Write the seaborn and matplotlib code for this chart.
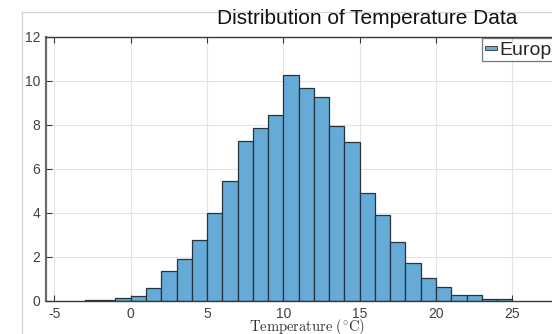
import numpy as np
import pandas as pd
import matplotlib
matplotlib.use("Agg")
import matplotlib.pyplot as plt
import seaborn as sns
from matplotlib.lines import Line2D
from matplotlib.patches import Rectangle, Patch
from matplotlib.legend_handler import HandlerPatch

# ---- data ----
bin_left = [-3, -2, -1, 0, 1, 2, 3, 4, 5, 6, 7, 8, 9, 10, 11, 12, 13, 14,
            15, 16, 17, 18, 19, 20, 21, 22, 23, 24]
heights = [0.06, 0.06, 0.14, 0.25, 0.58, 1.36, 1.90, 2.77, 4.00, 5.45, 7.27,
           7.88, 8.45, 10.27, 9.67, 9.26, 7.97, 7.23, 4.89, 3.91, 2.70, 1.74,
           1.06, 0.62, 0.27, 0.27, 0.09, 0.09]
series_name = "Europe"
title = "Distribution of Temperature Data"
xticks = [-5, 0, 5, 10, 15, 20, 25]
yticks = [0, 2, 4, 6, 8, 10, 12]

df = pd.DataFrame({"center": np.array(bin_left, dtype=float) + 0.5, "h": heights})

sns.set_style("white")
plt.rcParams["font.family"] = ["Liberation Sans", "DejaVu Sans"]
plt.rcParams["mathtext.fontset"] = "cm"

FACE = "#66AAD7"
EDGE = "#27343d"

W, H = 552, 334
fig = plt.figure(figsize=(W / 100, H / 100), dpi=100)
fig.patch.set_facecolor("white")

# light gray frame of the original figure window
fig.add_artist(Line2D([22 / W, 22 / W], [0, 1 - 12 / H], color="#d4d4d4", lw=0.9))
fig.add_artist(Line2D([22 / W, 1], [1 - 12 / H, 1 - 12 / H], color="#d4d4d4", lw=0.9))

ax = fig.add_axes([46 / W, 33 / H, (568 - 46) / W, (301 - 37) / H])
sns.histplot(data=df, x="center", weights="h", binwidth=1,
             binrange=(bin_left[0], bin_left[-1] + 1), ax=ax,
             color=FACE, alpha=1.0, edgecolor=EDGE, linewidth=0.9)

ax.set_xlim(-5.55, 28.65)
ax.set_ylim(0, 12)
ax.set_xticks(xticks)
ax.set_yticks(yticks)
ax.set_xticklabels([str(t) for t in xticks])
ax.set_yticklabels([str(t) for t in yticks])
ax.set_xlabel("")
ax.set_ylabel("")
ax.grid(True, color="#e3e3e3", lw=0.8)
ax.set_axisbelow(True)
for s in ax.spines.values():
    s.set_color("#3a3a3a")
    s.set_linewidth(1.0)
ax.spines["left"].set_color("#6a6a6a")
ax.spines["left"].set_linewidth(1.6)
ax.tick_params(direction="in", length=4, width=0.8, colors="#3a3a3a",
               labelcolor="#404040", labelsize=10, top=True, bottom=True,
               left=True, right=False, pad=4)


def thin_patch(legend, orig_handle, xdescent, ydescent, width, height, fontsize):
    h = 3.0
    return Rectangle((-xdescent, -ydescent + height / 2 - h / 2), width, h)


handle = Patch(facecolor=FACE, edgecolor=EDGE, linewidth=0.6)
leg = ax.legend([handle], [series_name], loc="upper left",
                bbox_to_anchor=(482 / W, 1 - 38 / H),
                bbox_transform=fig.transFigure, frameon=True, fancybox=False,
                fontsize=14, handlelength=0.6, handleheight=0.7,
                handletextpad=0.12, borderpad=0.15, borderaxespad=0,
                handler_map={Patch: HandlerPatch(patch_func=thin_patch)})
leg.get_frame().set_edgecolor("#555555")
leg.get_frame().set_linewidth(0.9)

fig.text(367 / W, 1 - 19 / H, title, ha="center", va="center", fontsize=15,
         color="#111111")
fig.text(307 / W, 1 - 327 / H, r"$\mathrm{Temperature\ (^{\circ}C)}$",
         ha="center", va="center", fontsize=10.5, color="#333333")

fig.savefig("out.png", dpi=100)
